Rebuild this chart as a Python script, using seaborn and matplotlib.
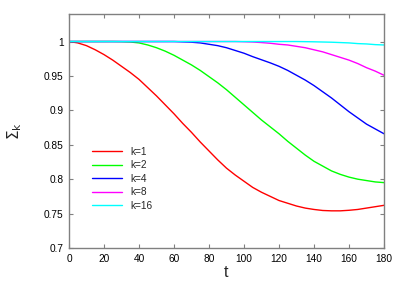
import numpy as np
import pandas as pd
import seaborn as sns
import matplotlib
matplotlib.use("Agg")
import matplotlib.pyplot as plt

t = list(range(0, 181, 5))
k1 = [1.0, 0.998, 0.994, 0.988, 0.981, 0.973, 0.964, 0.955, 0.945, 0.933, 0.921,
      0.908, 0.895, 0.881, 0.868, 0.854, 0.841, 0.828, 0.816, 0.806, 0.797,
      0.788, 0.781, 0.775, 0.769, 0.765, 0.761, 0.758, 0.756, 0.7545, 0.754,
      0.754, 0.7548, 0.756, 0.758, 0.760, 0.762]
k2 = [1.0, 1.0, 1.0, 1.0, 1.0, 1.0, 0.9998, 0.9993, 0.998, 0.995, 0.991,
      0.986, 0.980, 0.973, 0.966, 0.958, 0.949, 0.940, 0.930, 0.919, 0.908,
      0.897, 0.886, 0.876, 0.866, 0.855, 0.845, 0.835, 0.826, 0.819, 0.812,
      0.807, 0.803, 0.800, 0.798, 0.796, 0.795]
k4 = [1.0, 1.0, 1.0, 1.0, 1.0, 1.0, 1.0, 1.0, 1.0, 1.0, 1.0,
      1.0, 1.0, 0.9995, 0.999, 0.998, 0.996, 0.994, 0.991, 0.987, 0.983,
      0.978, 0.9735, 0.969, 0.964, 0.958, 0.951, 0.944, 0.936, 0.927, 0.918,
      0.908, 0.898, 0.889, 0.880, 0.873, 0.866]
k8 = [1.0, 1.0, 1.0, 1.0, 1.0, 1.0, 1.0, 1.0, 1.0, 1.0, 1.0,
      1.0, 1.0, 1.0, 1.0, 1.0, 1.0, 1.0, 1.0, 1.0, 0.9997,
      0.9993, 0.9985, 0.9975, 0.996, 0.995, 0.993, 0.991, 0.988, 0.985, 0.981,
      0.977, 0.973, 0.968, 0.962, 0.957, 0.951]
k16 = [1.0, 1.0, 1.0, 1.0, 1.0, 1.0, 1.0, 1.0, 1.0, 1.0, 1.0,
       1.0, 1.0, 1.0, 1.0, 1.0, 1.0, 1.0, 1.0, 1.0, 1.0,
       1.0, 1.0, 1.0, 1.0, 1.0, 1.0, 0.9998, 0.9996, 0.9993, 0.999,
       0.9985, 0.998, 0.997, 0.9965, 0.9955, 0.995]

labels = ["k=1", "k=2", "k=4", "k=8", "k=16"]
colors = ["#ff0000", "#00ff00", "#0000ff", "#ff00ff", "#00ffff"]

frames = []
for lab, vals in zip(labels, [k1, k2, k4, k8, k16]):
    frames.append(pd.DataFrame({"t": t, "v": vals, "k": lab}))
df = pd.concat(frames, ignore_index=True)

sns.set_theme(style="white")
plt.rcParams["font.family"] = ["Liberation Sans", "DejaVu Sans"]

fig = plt.figure(figsize=(4.07, 2.85), dpi=100)
ax = fig.add_axes([69/407, 1-248/285, 315/407, 234/285])

sns.lineplot(data=df, x="t", y="v", hue="k", hue_order=labels,
             palette=dict(zip(labels, colors)), linewidth=1.0, ax=ax)

ax.set_xlim(0, 180)
ax.set_ylim(0.7, 1.04)
ax.set_xticks(range(0, 181, 20))
ax.set_yticks([0.7, 0.75, 0.8, 0.85, 0.9, 0.95, 1.0])
ax.set_yticklabels(["0.7", "0.75", "0.8", "0.85", "0.9", "0.95", "1"])

grey = "#808080"
for s in ax.spines.values():
    s.set_color(grey)
    s.set_linewidth(1.0)
    s.set_visible(True)
ax.tick_params(axis="both", which="both", direction="in", length=3, width=0.8,
               color=grey, labelsize=7.3, labelcolor="black", pad=4,
               top=True, right=True, bottom=True, left=True)

ax.set_xlabel("t", fontsize=11.5, labelpad=1)
ax.set_ylabel(r"$\Sigma_\mathrm{k}$", fontsize=11, labelpad=14)

leg = ax.legend(loc="upper left", bbox_to_anchor=(0.073, 0.433), frameon=False,
                fontsize=7.3, handlelength=3.0, handletextpad=0.8,
                labelspacing=0.35, borderpad=0, borderaxespad=0)

fig.savefig("out.png", dpi=100)
